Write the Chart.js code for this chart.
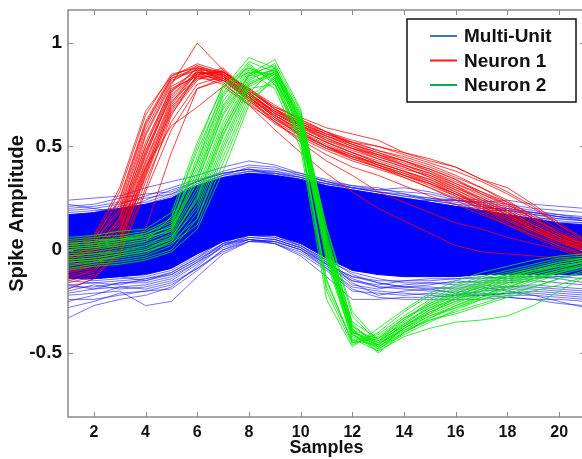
<!DOCTYPE html>
<html>
<head>
<meta charset="utf-8">
<title>Spike waveforms</title>
<script src="https://cdn.jsdelivr.net/npm/chart.js@4.4.1/dist/chart.umd.min.js"></script>
<style>
  html, body { margin: 0; padding: 0; background: #fff; overflow: hidden; }
  #wrap { width: 600px; height: 459px; }
</style>
</head>
<body>
<div id="wrap"><canvas id="spikes" width="600" height="459"></canvas></div>
<script>
// sample index along each waveform
const samples = [1, 2, 3, 4, 5, 6, 7, 8, 9, 10, 11, 12, 13, 14, 15, 16, 17, 18, 19, 20, 21];
const xTicks = [2, 4, 6, 8, 10, 12, 14, 16, 18, 20];
const yTicks = [-0.5, 0, 0.5, 1];

// dense multi-unit band: upper and lower edge of the solid core
const muCoreUpper = [0.17, 0.18, 0.20, 0.22, 0.25, 0.31, 0.35, 0.37, 0.36, 0.34, 0.31, 0.29, 0.27, 0.25, 0.23, 0.21, 0.19, 0.17, 0.15, 0.13, 0.12];
const muCoreLower = [-0.14, -0.14, -0.13, -0.12, -0.09, -0.02, 0.04, 0.07, 0.07, 0.03, -0.04, -0.10, -0.12, -0.13, -0.13, -0.13, -0.12, -0.12, -0.12, -0.12, -0.12];

// multi-unit traces around the core
const multiUnit = [
  [0.24, 0.25, 0.26, 0.30, 0.33, 0.36, 0.40, 0.43, 0.41, 0.37, 0.33, 0.30, 0.29, 0.30, 0.28, 0.25, 0.24, 0.22, 0.20, 0.19, 0.18],
  [0.21, 0.22, 0.25, 0.27, 0.28, 0.33, 0.38, 0.41, 0.40, 0.36, 0.33, 0.31, 0.30, 0.27, 0.24, 0.24, 0.23, 0.21, 0.19, 0.17, 0.16],
  [0.19, 0.20, 0.22, 0.26, 0.30, 0.34, 0.37, 0.39, 0.37, 0.35, 0.32, 0.29, 0.26, 0.25, 0.23, 0.21, 0.20, 0.20, 0.18, 0.16, 0.15],
  [0.15, 0.18, 0.21, 0.23, 0.27, 0.31, 0.36, 0.40, 0.39, 0.37, 0.34, 0.31, 0.29, 0.28, 0.27, 0.24, 0.22, 0.18, 0.16, 0.14, 0.13],
  [0.22, 0.20, 0.18, 0.21, 0.25, 0.32, 0.36, 0.38, 0.38, 0.35, 0.31, 0.27, 0.25, 0.24, 0.22, 0.20, 0.18, 0.17, 0.15, 0.13, 0.13],
  [0.12, 0.16, 0.19, 0.24, 0.29, 0.33, 0.37, 0.39, 0.36, 0.33, 0.30, 0.28, 0.26, 0.24, 0.24, 0.22, 0.19, 0.17, 0.15, 0.15, 0.14],
  [0.18, 0.19, 0.20, 0.22, 0.24, 0.29, 0.34, 0.37, 0.35, 0.32, 0.29, 0.27, 0.25, 0.23, 0.24, 0.24, 0.23, 0.24, 0.22, 0.21, 0.20],
  [0.10, 0.13, 0.16, 0.20, 0.23, 0.28, 0.33, 0.37, 0.37, 0.34, 0.30, 0.26, 0.24, 0.22, 0.20, 0.19, 0.19, 0.19, 0.18, 0.17, 0.15],
  [0.20, 0.21, 0.23, 0.25, 0.27, 0.33, 0.37, 0.39, 0.38, 0.36, 0.33, 0.30, 0.28, 0.26, 0.24, 0.22, 0.21, 0.19, 0.17, 0.15, 0.14],
  [0.16, 0.17, 0.19, 0.22, 0.26, 0.31, 0.35, 0.38, 0.37, 0.35, 0.32, 0.30, 0.28, 0.27, 0.25, 0.23, 0.21, 0.19, 0.17, 0.16, 0.15],
  [0.13, 0.15, 0.18, 0.21, 0.24, 0.30, 0.34, 0.36, 0.36, 0.34, 0.32, 0.30, 0.28, 0.26, 0.25, 0.24, 0.22, 0.20, 0.18, 0.16, 0.14],
  [-0.33, -0.27, -0.24, -0.22, -0.18, -0.08, 0.02, 0.06, 0.05, 0.01, -0.06, -0.14, -0.18, -0.19, -0.20, -0.20, -0.21, -0.22, -0.22, -0.23, -0.24],
  [-0.22, -0.21, -0.20, -0.27, -0.25, -0.13, -0.02, 0.04, 0.04, 0.00, -0.07, -0.13, -0.16, -0.18, -0.19, -0.21, -0.22, -0.23, -0.24, -0.24, -0.25],
  [-0.24, -0.24, -0.22, -0.20, -0.19, -0.10, 0.00, 0.05, 0.04, 0.00, -0.09, -0.19, -0.23, -0.24, -0.24, -0.24, -0.24, -0.23, -0.24, -0.26, -0.27],
  [-0.20, -0.17, -0.19, -0.18, -0.15, -0.07, 0.02, 0.07, 0.06, 0.02, -0.05, -0.16, -0.22, -0.20, -0.19, -0.18, -0.18, -0.20, -0.22, -0.25, -0.28],
  [-0.17, -0.19, -0.16, -0.16, -0.13, -0.06, 0.03, 0.05, 0.03, -0.02, -0.10, -0.20, -0.21, -0.22, -0.21, -0.22, -0.20, -0.19, -0.19, -0.20, -0.21],
  [-0.25, -0.22, -0.18, -0.19, -0.16, -0.09, -0.01, 0.04, 0.05, 0.01, -0.07, -0.17, -0.19, -0.17, -0.16, -0.17, -0.17, -0.18, -0.17, -0.18, -0.19],
  [-0.15, -0.16, -0.17, -0.14, -0.12, -0.05, 0.03, 0.08, 0.07, 0.03, -0.04, -0.12, -0.16, -0.18, -0.17, -0.15, -0.16, -0.16, -0.15, -0.16, -0.17],
  [-0.19, -0.14, -0.13, -0.15, -0.11, -0.04, 0.05, 0.08, 0.07, 0.02, -0.06, -0.15, -0.17, -0.15, -0.14, -0.14, -0.13, -0.14, -0.13, -0.14, -0.16],
  [-0.21, -0.19, -0.18, -0.17, -0.14, -0.06, 0.01, 0.05, 0.03, -0.03, -0.13, -0.24, -0.24, -0.23, -0.23, -0.22, -0.22, -0.21, -0.20, -0.21, -0.22],
  [-0.17, -0.16, -0.15, -0.14, -0.11, -0.04, 0.03, 0.06, 0.05, 0.01, -0.07, -0.13, -0.15, -0.15, -0.15, -0.14, -0.14, -0.13, -0.13, -0.13, -0.14],
  [-0.13, -0.15, -0.14, -0.13, -0.10, -0.03, 0.04, 0.07, 0.06, 0.02, -0.05, -0.11, -0.14, -0.16, -0.16, -0.16, -0.15, -0.15, -0.14, -0.13, -0.12],
  [-0.18, -0.18, -0.16, -0.15, -0.12, -0.05, 0.02, 0.05, 0.04, 0.00, -0.08, -0.15, -0.18, -0.18, -0.18, -0.19, -0.19, -0.18, -0.18, -0.19, -0.20],
  [-0.28, -0.25, -0.21, -0.20, -0.17, -0.09, 0.00, 0.04, 0.03, -0.01, -0.09, -0.18, -0.20, -0.21, -0.22, -0.23, -0.22, -0.21, -0.21, -0.22, -0.23]
];

// neuron 1 waveforms: early peak around sample 6, slow decay
const neuron1 = [
  [-0.05, 0.00, 0.15, 0.55, 0.80, 1.00, 0.87, 0.75, 0.65, 0.58, 0.52, 0.47, 0.42, 0.38, 0.33, 0.27, 0.22, 0.16, 0.10, 0.05, 0.02],
  [0.02, 0.05, 0.25, 0.62, 0.84, 0.90, 0.86, 0.76, 0.66, 0.60, 0.55, 0.50, 0.45, 0.41, 0.36, 0.31, 0.24, 0.18, 0.11, 0.06, 0.03],
  [-0.08, -0.05, 0.10, 0.45, 0.76, 0.88, 0.84, 0.74, 0.64, 0.55, 0.49, 0.45, 0.42, 0.38, 0.34, 0.28, 0.21, 0.14, 0.08, 0.03, 0.00],
  [-0.12, -0.10, 0.05, 0.38, 0.70, 0.86, 0.85, 0.77, 0.68, 0.62, 0.56, 0.52, 0.48, 0.44, 0.40, 0.35, 0.30, 0.24, 0.16, 0.08, 0.02],
  [0.00, 0.03, 0.20, 0.58, 0.82, 0.87, 0.83, 0.72, 0.62, 0.53, 0.46, 0.40, 0.36, 0.31, 0.26, 0.22, 0.17, 0.12, 0.07, 0.02, -0.02],
  [-0.15, -0.12, -0.02, 0.30, 0.65, 0.85, 0.86, 0.78, 0.69, 0.63, 0.57, 0.53, 0.50, 0.46, 0.42, 0.38, 0.33, 0.27, 0.20, 0.12, 0.05],
  [-0.04, 0.02, 0.18, 0.52, 0.78, 0.84, 0.80, 0.71, 0.61, 0.54, 0.48, 0.43, 0.39, 0.35, 0.30, 0.24, 0.18, 0.12, 0.06, 0.01, -0.03],
  [-0.10, -0.06, 0.08, 0.42, 0.72, 0.83, 0.82, 0.73, 0.65, 0.58, 0.52, 0.47, 0.43, 0.39, 0.36, 0.30, 0.24, 0.18, 0.12, 0.06, 0.01],
  [0.03, 0.06, 0.28, 0.65, 0.85, 0.88, 0.84, 0.75, 0.67, 0.61, 0.56, 0.52, 0.50, 0.47, 0.43, 0.40, 0.34, 0.28, 0.21, 0.12, 0.04],
  [-0.19, -0.14, 0.00, 0.33, 0.62, 0.80, 0.84, 0.76, 0.66, 0.59, 0.53, 0.48, 0.44, 0.40, 0.35, 0.29, 0.23, 0.17, 0.10, 0.04, -0.01],
  [-0.06, -0.02, 0.14, 0.48, 0.74, 0.86, 0.83, 0.74, 0.64, 0.56, 0.50, 0.44, 0.40, 0.36, 0.32, 0.26, 0.20, 0.15, 0.09, 0.04, -0.01],
  [-0.09, -0.08, 0.04, 0.35, 0.66, 0.82, 0.87, 0.77, 0.68, 0.60, 0.53, 0.49, 0.46, 0.42, 0.38, 0.32, 0.26, 0.20, 0.13, 0.07, 0.02],
  [-0.02, 0.01, 0.10, 0.40, 0.60, 0.69, 0.79, 0.70, 0.62, 0.55, 0.49, 0.44, 0.40, 0.35, 0.30, 0.25, 0.20, 0.14, 0.09, 0.04, 0.00],
  [-0.11, -0.09, -0.04, 0.10, 0.47, 0.78, 0.83, 0.74, 0.64, 0.57, 0.50, 0.45, 0.41, 0.37, 0.33, 0.28, 0.22, 0.17, 0.11, 0.05, 0.00],
  [0.04, 0.07, 0.30, 0.67, 0.84, 0.89, 0.85, 0.77, 0.68, 0.62, 0.57, 0.51, 0.46, 0.41, 0.37, 0.32, 0.27, 0.22, 0.15, 0.09, 0.03],
  [-0.07, -0.03, 0.12, 0.46, 0.75, 0.86, 0.84, 0.73, 0.62, 0.52, 0.43, 0.36, 0.28, 0.23, 0.18, 0.13, 0.10, 0.06, 0.03, 0.00, -0.04],
  [-0.13, -0.11, 0.02, 0.36, 0.68, 0.84, 0.88, 0.76, 0.67, 0.60, 0.55, 0.51, 0.47, 0.43, 0.39, 0.34, 0.27, 0.21, 0.14, 0.07, 0.03],
  [-0.01, 0.03, 0.22, 0.60, 0.83, 0.88, 0.86, 0.77, 0.69, 0.64, 0.59, 0.56, 0.53, 0.47, 0.44, 0.40, 0.34, 0.30, 0.22, 0.13, 0.05],
  [-0.16, -0.13, -0.03, 0.28, 0.58, 0.78, 0.82, 0.74, 0.65, 0.57, 0.51, 0.46, 0.41, 0.36, 0.31, 0.26, 0.19, 0.13, 0.07, 0.02, -0.03],
  [-0.03, 0.00, 0.16, 0.50, 0.79, 0.86, 0.81, 0.70, 0.58, 0.47, 0.37, 0.28, 0.20, 0.14, 0.08, 0.02, -0.01, -0.02, -0.03, -0.04, -0.05],
  [-0.10, -0.07, 0.06, 0.40, 0.71, 0.87, 0.86, 0.78, 0.70, 0.63, 0.57, 0.52, 0.48, 0.45, 0.41, 0.36, 0.30, 0.23, 0.15, 0.08, 0.02],
  [0.01, 0.04, 0.19, 0.56, 0.81, 0.89, 0.85, 0.74, 0.65, 0.58, 0.52, 0.47, 0.42, 0.38, 0.34, 0.29, 0.23, 0.17, 0.10, 0.05, 0.01],
  [-0.14, -0.10, 0.03, 0.37, 0.67, 0.83, 0.85, 0.76, 0.66, 0.59, 0.54, 0.49, 0.45, 0.41, 0.37, 0.31, 0.25, 0.19, 0.12, 0.06, 0.01],
  [-0.05, -0.01, 0.13, 0.47, 0.77, 0.88, 0.84, 0.75, 0.66, 0.60, 0.54, 0.49, 0.44, 0.40, 0.35, 0.30, 0.25, 0.19, 0.12, 0.06, 0.01],
  [-0.08, -0.04, 0.09, 0.43, 0.73, 0.85, 0.86, 0.78, 0.68, 0.61, 0.55, 0.50, 0.46, 0.43, 0.39, 0.34, 0.28, 0.22, 0.15, 0.08, 0.03],
  [0.02, 0.05, 0.24, 0.61, 0.83, 0.87, 0.82, 0.72, 0.63, 0.56, 0.50, 0.45, 0.40, 0.36, 0.32, 0.27, 0.21, 0.15, 0.09, 0.04, 0.00],
  [-0.11, -0.08, 0.05, 0.39, 0.69, 0.84, 0.83, 0.75, 0.67, 0.61, 0.56, 0.51, 0.47, 0.43, 0.38, 0.33, 0.28, 0.23, 0.17, 0.10, 0.04],
  [-0.04, 0.00, 0.15, 0.50, 0.77, 0.85, 0.82, 0.73, 0.63, 0.56, 0.50, 0.46, 0.41, 0.37, 0.32, 0.27, 0.21, 0.16, 0.10, 0.05, 0.00]
];

// neuron 2 waveforms: later peak at samples 8-9, deep trough at 12-13
const neuron2 = [
  [0.02, 0.03, 0.04, 0.06, 0.12, 0.45, 0.78, 0.93, 0.88, 0.62, 0.02, -0.40, -0.44, -0.35, -0.28, -0.24, -0.20, -0.16, -0.12, -0.09, -0.06],
  [-0.03, -0.02, 0.00, 0.02, 0.08, 0.30, 0.62, 0.85, 0.92, 0.68, 0.08, -0.36, -0.47, -0.38, -0.30, -0.25, -0.22, -0.18, -0.14, -0.10, -0.07],
  [0.05, 0.06, 0.07, 0.09, 0.15, 0.50, 0.80, 0.88, 0.82, 0.55, -0.15, -0.45, -0.42, -0.33, -0.26, -0.20, -0.15, -0.12, -0.09, -0.06, -0.04],
  [-0.06, -0.05, -0.04, -0.02, 0.04, 0.22, 0.55, 0.80, 0.86, 0.63, 0.05, -0.38, -0.50, -0.40, -0.33, -0.27, -0.23, -0.19, -0.15, -0.11, -0.08],
  [0.00, 0.01, 0.03, 0.05, 0.10, 0.38, 0.70, 0.87, 0.84, 0.58, -0.02, -0.44, -0.46, -0.36, -0.27, -0.21, -0.17, -0.13, -0.10, -0.07, -0.05],
  [-0.09, -0.07, -0.06, -0.04, 0.00, 0.15, 0.48, 0.76, 0.88, 0.66, 0.10, -0.32, -0.45, -0.39, -0.34, -0.31, -0.27, -0.23, -0.20, -0.17, -0.13],
  [0.03, 0.04, 0.06, 0.08, 0.14, 0.42, 0.74, 0.90, 0.80, 0.52, -0.20, -0.46, -0.40, -0.30, -0.22, -0.17, -0.13, -0.10, -0.07, -0.04, -0.03],
  [-0.02, -0.01, 0.01, 0.03, 0.07, 0.28, 0.60, 0.83, 0.87, 0.64, 0.04, -0.39, -0.48, -0.41, -0.35, -0.29, -0.24, -0.20, -0.16, -0.12, -0.09],
  [0.06, 0.07, 0.09, 0.10, 0.18, 0.52, 0.79, 0.86, 0.78, 0.49, -0.24, -0.47, -0.38, -0.29, -0.21, -0.15, -0.11, -0.08, -0.05, -0.03, -0.02],
  [-0.04, -0.03, -0.01, 0.01, 0.05, 0.20, 0.52, 0.79, 0.85, 0.61, 0.00, -0.41, -0.49, -0.37, -0.29, -0.24, -0.19, -0.15, -0.12, -0.09, -0.06],
  [0.01, 0.02, 0.04, 0.07, 0.11, 0.35, 0.68, 0.84, 0.90, 0.67, 0.06, -0.35, -0.43, -0.36, -0.31, -0.26, -0.21, -0.17, -0.13, -0.10, -0.08],
  [-0.07, -0.06, -0.03, -0.01, 0.03, 0.12, 0.42, 0.72, 0.82, 0.60, -0.04, -0.42, -0.47, -0.39, -0.32, -0.28, -0.24, -0.21, -0.18, -0.14, -0.11],
  [-0.05, -0.04, -0.02, 0.00, 0.06, 0.25, 0.58, 0.81, 0.86, 0.57, -0.06, -0.43, -0.49, -0.42, -0.38, -0.35, -0.34, -0.32, -0.27, -0.20, -0.13],
  [0.04, 0.05, 0.05, 0.08, 0.13, 0.40, 0.72, 0.88, 0.83, 0.54, -0.18, -0.44, -0.41, -0.32, -0.24, -0.18, -0.14, -0.11, -0.08, -0.05, -0.04],
  [-0.10, -0.08, -0.07, -0.05, -0.01, 0.10, 0.38, 0.70, 0.84, 0.65, 0.11, -0.30, -0.44, -0.37, -0.30, -0.25, -0.20, -0.16, -0.13, -0.10, -0.07],
  [0.02, 0.03, 0.05, 0.06, 0.09, 0.33, 0.66, 0.85, 0.89, 0.62, 0.01, -0.37, -0.45, -0.34, -0.25, -0.19, -0.16, -0.13, -0.10, -0.08, -0.06],
  [-0.01, 0.00, 0.02, 0.04, 0.16, 0.48, 0.76, 0.91, 0.86, 0.59, -0.03, -0.39, -0.43, -0.33, -0.27, -0.22, -0.18, -0.14, -0.11, -0.07, -0.05],
  [-0.08, -0.06, -0.05, -0.03, 0.02, 0.18, 0.50, 0.78, 0.80, 0.55, -0.01, -0.40, -0.46, -0.38, -0.31, -0.23, -0.17, -0.13, -0.10, -0.08, -0.06],
  [0.00, 0.01, 0.02, 0.04, 0.09, 0.36, 0.69, 0.86, 0.85, 0.60, 0.03, -0.41, -0.46, -0.37, -0.29, -0.23, -0.19, -0.15, -0.11, -0.08, -0.06],
  [-0.05, -0.04, -0.02, 0.00, 0.05, 0.26, 0.58, 0.82, 0.88, 0.65, 0.07, -0.37, -0.46, -0.38, -0.32, -0.27, -0.22, -0.18, -0.14, -0.11, -0.08],
  [0.03, 0.04, 0.05, 0.07, 0.11, 0.43, 0.75, 0.89, 0.81, 0.53, -0.14, -0.45, -0.43, -0.34, -0.26, -0.21, -0.16, -0.12, -0.09, -0.06, -0.04],
  [-0.03, -0.02, -0.01, 0.02, 0.06, 0.24, 0.56, 0.80, 0.86, 0.62, 0.04, -0.39, -0.47, -0.40, -0.33, -0.28, -0.23, -0.18, -0.14, -0.11, -0.08],
  [0.01, 0.02, 0.03, 0.05, 0.10, 0.33, 0.65, 0.84, 0.87, 0.61, 0.02, -0.40, -0.45, -0.36, -0.28, -0.22, -0.18, -0.14, -0.10, -0.07, -0.05],
  [-0.06, -0.05, -0.03, -0.01, 0.04, 0.15, 0.45, 0.74, 0.83, 0.58, -0.02, -0.41, -0.48, -0.40, -0.34, -0.30, -0.26, -0.22, -0.18, -0.14, -0.10]
];

const legendItems = [
  { label: 'Multi-Unit', color: '#4472c4' },
  { label: 'Neuron 1', color: '#ff1a1a' },
  { label: 'Neuron 2', color: '#00b050' }
];

const FONT = "'Liberation Sans', Arial, sans-serif";
const AXIS_GREY = '#8a8a8a';

function trace(ys, color, order, extra) {
  return Object.assign({
    data: ys.map((y, i) => ({ x: samples[i], y })),
    borderColor: color,
    borderWidth: 1,
    pointRadius: 0,
    tension: 0,
    fill: false,
    order
  }, extra || {});
}

const datasets = [
  trace(muCoreUpper, '#0000ff', 3, { fill: '+1', backgroundColor: '#0000ff' }),
  trace(muCoreLower, '#0000ff', 3),
  ...multiUnit.map(ys => trace(ys, 'rgba(20,20,255,0.6)', 3)),
  ...neuron1.map(ys => trace(ys, 'rgba(255,0,0,0.75)', 2)),
  ...neuron2.map(ys => trace(ys, 'rgba(0,235,0,0.8)', 1))
];

// box around the plot with inward tick marks
const framePlugin = {
  id: 'frame',
  afterDatasetsDraw(chart) {
    const { ctx, chartArea: a, scales: { x, y } } = chart;
    ctx.save();
    ctx.strokeStyle = AXIS_GREY;
    ctx.lineWidth = 1.5;
    ctx.strokeRect(a.left, a.top, a.right - a.left, a.bottom - a.top);
    ctx.lineWidth = 1;
    ctx.beginPath();
    xTicks.forEach(v => {
      const px = Math.round(x.getPixelForValue(v)) + 0.5;
      ctx.moveTo(px, a.bottom); ctx.lineTo(px, a.bottom - 5);
      ctx.moveTo(px, a.top); ctx.lineTo(px, a.top + 5);
    });
    yTicks.forEach(v => {
      const py = Math.round(y.getPixelForValue(v)) + 0.5;
      ctx.moveTo(a.left, py); ctx.lineTo(a.left + 5, py);
      ctx.moveTo(a.right, py); ctx.lineTo(a.right - 5, py);
    });
    ctx.stroke();
    ctx.restore();
  }
};

// boxed legend in the upper right corner
const legendPlugin = {
  id: 'boxLegend',
  afterDraw(chart) {
    const { ctx, chartArea: a } = chart;
    const left = a.right - 178, top = a.top + 9, w = 169, h = 83;
    ctx.save();
    ctx.fillStyle = '#fff';
    ctx.fillRect(left, top, w, h);
    ctx.strokeStyle = '#111';
    ctx.lineWidth = 1.5;
    ctx.strokeRect(left, top, w, h);
    ctx.font = 'bold 19px ' + FONT;
    ctx.textBaseline = 'middle';
    legendItems.forEach((it, i) => {
      const cy = top + 17 + i * 24.5;
      ctx.strokeStyle = it.color;
      ctx.lineWidth = 2;
      ctx.beginPath();
      ctx.moveTo(left + 23, cy);
      ctx.lineTo(left + 50, cy);
      ctx.stroke();
      ctx.fillStyle = '#111';
      ctx.fillText(it.label, left + 57, cy + 1);
    });
    ctx.restore();
  }
};

function noScalePadding(s) {
  s.paddingTop = 0; s.paddingBottom = 0; s.paddingLeft = 0; s.paddingRight = 0;
}

new Chart(document.getElementById('spikes'), {
  type: 'line',
  data: { datasets },
  options: {
    responsive: false,
    animation: false,
    events: [],
    layout: { padding: { top: 10, right: 15, left: 0, bottom: 0 } },
    plugins: { legend: { display: false }, tooltip: { enabled: false } },
    scales: {
      x: {
        type: 'linear',
        min: 1,
        max: 21,
        afterBuildTicks: s => { s.ticks = xTicks.map(v => ({ value: v })); },
        afterFit: s => { s.height = 42; noScalePadding(s); },
        grid: { display: false, drawTicks: false },
        border: { display: false },
        ticks: {
          autoSkip: false, maxRotation: 0, padding: 6, color: '#111',
          font: { family: FONT, weight: 'bold', size: 16 }
        },
        title: {
          display: true, text: 'Samples', color: '#111',
          font: { family: FONT, weight: 'bold', size: 18 },
          padding: { top: 0, bottom: 0 }
        }
      },
      y: {
        type: 'linear',
        min: -0.809,
        max: 1.16,
        afterBuildTicks: s => { s.ticks = yTicks.map(v => ({ value: v })); },
        afterFit: s => { s.width = 68; noScalePadding(s); },
        grid: { display: false, drawTicks: false },
        border: { display: false },
        ticks: {
          padding: 6, color: '#111',
          font: { family: FONT, weight: 'bold', size: 19 },
          callback: v => String(v)
        },
        title: {
          display: true, text: 'Spike Amplitude', color: '#111',
          font: { family: FONT, weight: 'bold', size: 20 },
          padding: { top: 5, bottom: 0 }
        }
      }
    }
  },
  plugins: [framePlugin, legendPlugin]
});
</script>
</body>
</html>
